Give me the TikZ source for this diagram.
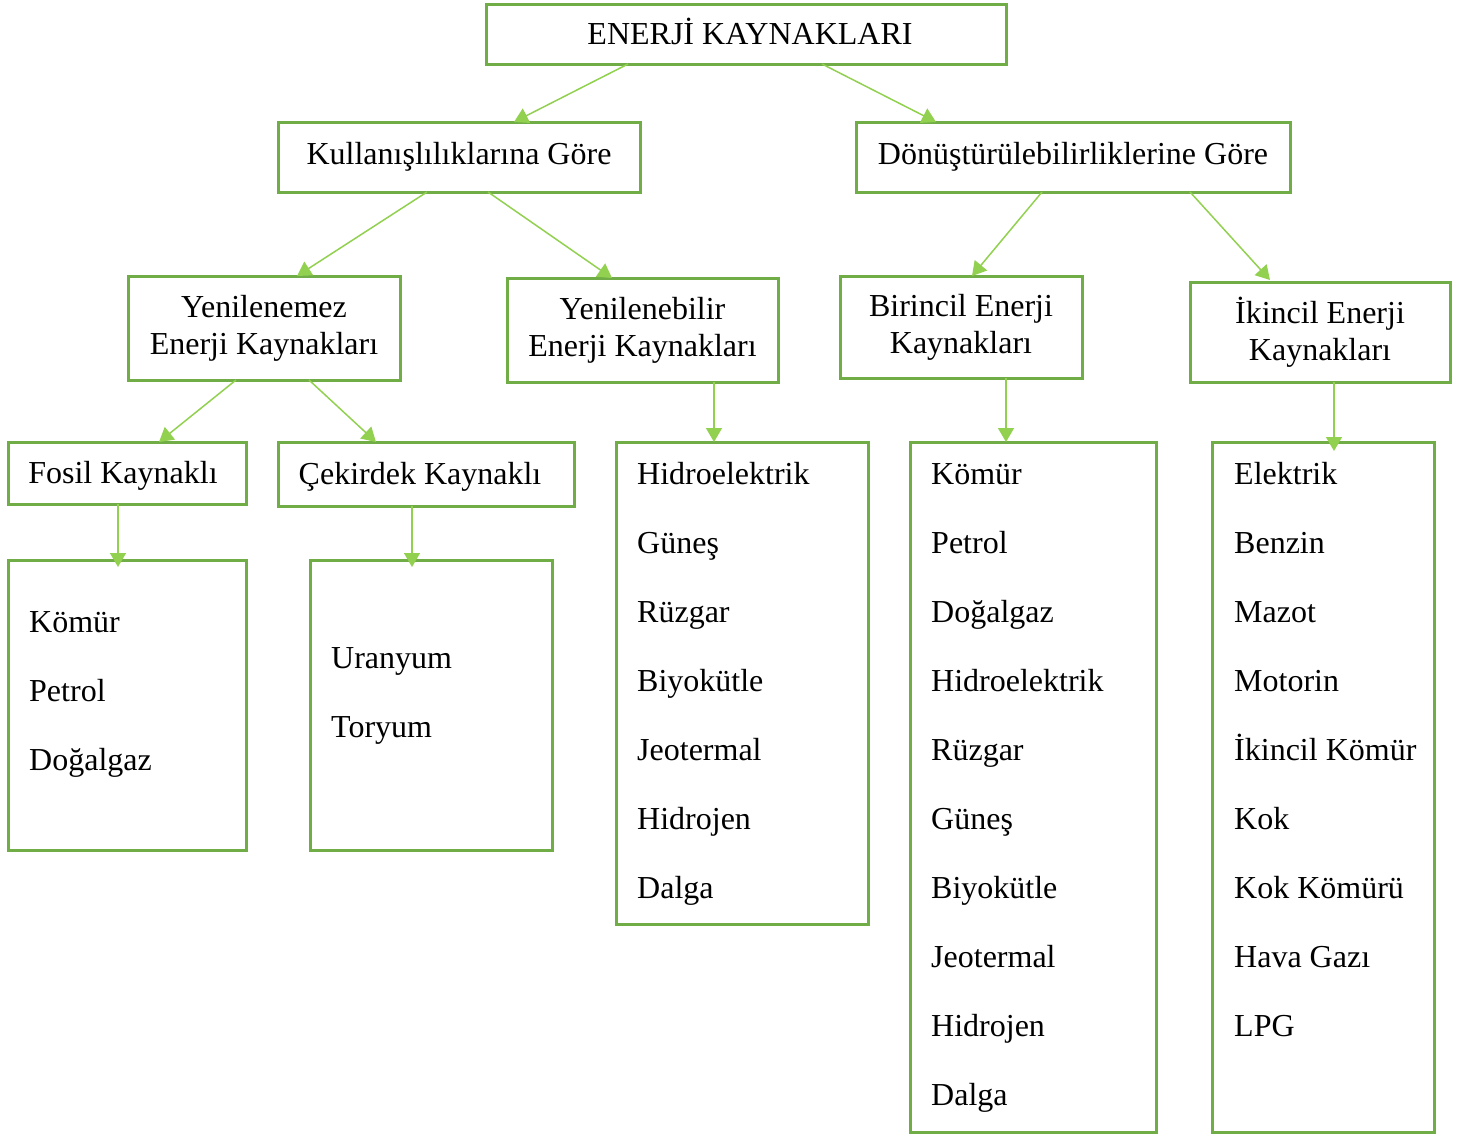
\documentclass[tikz,border=0pt]{standalone}
\usepackage{fontspec}
\setmainfont{Liberation Serif}
\usetikzlibrary{arrows.meta,calc}
\definecolor{boxgreen}{HTML}{70AD47}
\definecolor{arrgreen}{HTML}{92D050}
\begin{document}
\begin{tikzpicture}[x=1pt,y=-1pt,
  box/.style={draw=boxgreen,line width=3pt,inner sep=0pt,outer sep=0pt,align=center,font=\fontsize{32}{37}\selectfont},
  one/.style={text height=22pt,text depth=7pt},
  low/.style={text height=22pt,text depth=1pt},
  item/.style={anchor=base west,inner sep=0pt,font=\fontsize{32}{37}\selectfont},
  conn/.style={draw=arrgreen,line width=1.5pt,-{Triangle[width=16pt,length=14pt]}}]
\useasboundingbox (0,0) rectangle (1466,1135);
% headings
\node[box,low,minimum width=520pt,minimum height=60pt] (top) at (746,34) {\kern8pt ENERJİ KAYNAKLARI};
\node[box,one,minimum width=362pt,minimum height=70pt] (kul) at (459,157) {Kullanışlılıklarına Göre};
\node[box,one,minimum width=434pt,minimum height=70pt] (don) at (1073,157) {Dönüştürülebilirliklerine Göre};
\node[box,minimum width=272pt,minimum height=104pt] (yen) at (264,328) {Yenilenemez\\Enerji Kaynakları};
\node[box,minimum width=271pt,minimum height=104pt] (yeb) at (642.5,330) {Yenilenebilir\\Enerji Kaynakları};
\node[box,minimum width=242pt,minimum height=102pt] (bir) at (961,327) {Birincil Enerji\\Kaynakları};
\node[box,minimum width=260pt,minimum height=100pt] (iki) at (1320,332) {İkincil Enerji\\Kaynakları};
\node[box,low,minimum width=238pt,minimum height=62pt] (fos) at (127,473) {Fosil Kaynaklı\kern8pt};
\node[box,low,minimum width=296pt,minimum height=64pt] (cek) at (426,474) {Çekirdek Kaynaklı\kern12pt};
% list boxes
\node[box,minimum width=252pt,minimum height=482pt] (lA) at (742,683) {};
\node[box,minimum width=246pt,minimum height=690pt] (lB) at (1033,787) {};
\node[box,minimum width=222pt,minimum height=690pt] (lC) at (1323,787) {};
\node[box,minimum width=238pt,minimum height=290pt] (lD) at (127,705) {};
\node[box,minimum width=242pt,minimum height=290pt] (lE) at (431,705) {};
% list items
\foreach \t [count=\i] in {Hidroelektrik,Güneş,Rüzgar,Biyokütle,Jeotermal,Hidrojen,Dalga}
  \node[item] (a\i) at (637,{484+69*(\i-1)}) {\t};
\foreach \t [count=\i] in {Kömür,Petrol,Doğalgaz,Hidroelektrik,Rüzgar,Güneş,Biyokütle,Jeotermal,Hidrojen,Dalga}
  \node[item] (b\i) at (931,{484+69*(\i-1)}) {\t};
\foreach \t [count=\i] in {Elektrik,Benzin,Mazot,Motorin,İkincil Kömür,Kok,Kok Kömürü,Hava Gazı,LPG}
  \node[item] (c\i) at (1234,{484+69*(\i-1)}) {\t};
\foreach \t [count=\i] in {Kömür,Petrol,Doğalgaz}
  \node[item] (d\i) at (29,{632+69*(\i-1)}) {\t};
\foreach \t [count=\i] in {Uranyum,Toryum}
  \node[item] (e\i) at (331,{668+69*(\i-1)}) {\t};
% connectors
\draw[conn] ([xshift=142pt]top.south west) -- ([xshift=236pt]kul.north west);
\draw[conn] ([xshift=336pt]top.south west) -- ([xshift=80pt]don.north west);
\draw[conn] ([xshift=149pt]kul.south west) -- ([xshift=169pt]yen.north west);
\draw[conn] ([xshift=210pt]kul.south west) -- ([xshift=105pt]yeb.north west);
\draw[conn] ([xshift=186pt]don.south west) -- ([xshift=132pt]bir.north west);
\draw[conn] ([xshift=334pt]don.south west) -- ([xshift=80pt,yshift=2pt]iki.north west);
\draw[conn] ([xshift=108pt]yen.south west) -- ([xshift=151pt]fos.north west);
\draw[conn] ([xshift=181pt]yen.south west) -- ([xshift=98pt]cek.north west);
\draw[conn] ([xshift=110pt]fos.south west) -- ([xshift=110pt,yshift=-7pt]lD.north west);
\draw[conn] ([xshift=134pt]cek.south west) -- ([xshift=102pt,yshift=-7pt]lE.north west);
\draw[conn] ([xshift=207pt]yeb.south west) -- ([xshift=98pt]lA.north west);
\draw[conn] ([xshift=166pt]bir.south west) -- ([xshift=96pt]lB.north west);
\draw[conn] ([xshift=144pt]iki.south west) -- ([xshift=122pt,yshift=-9pt]lC.north west);
\end{tikzpicture}
\end{document}
